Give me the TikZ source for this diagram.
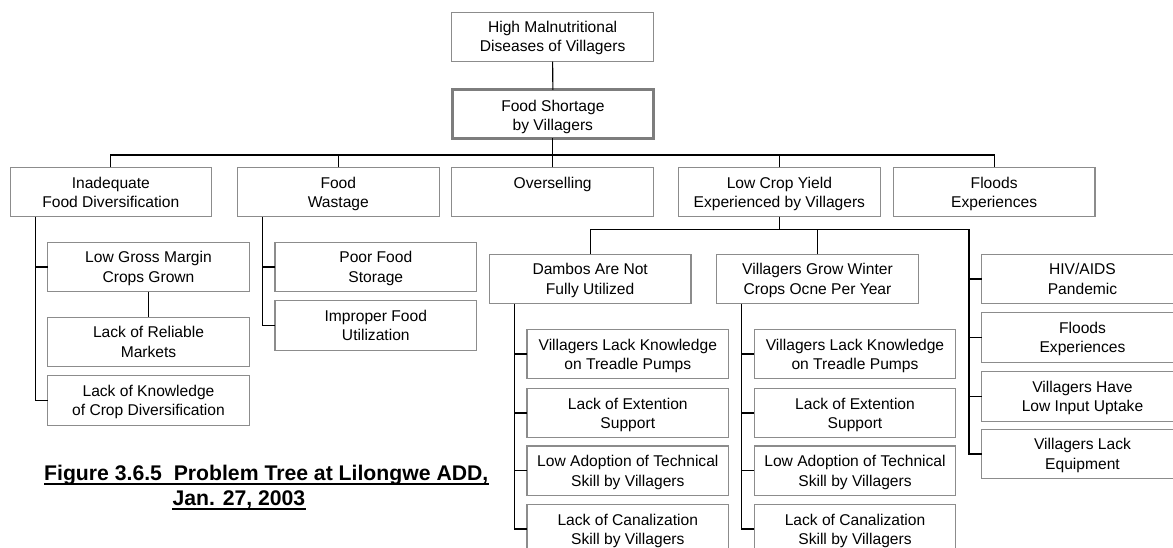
\documentclass[tikz,border=0pt]{standalone}
\usepackage{fontspec}
\setmainfont{Liberation Sans}
\usetikzlibrary{calc}
\definecolor{boxgray}{RGB}{140,140,140}
\definecolor{coregray}{RGB}{125,125,125}

% one problem box: name, centre x, top y, offset of the text block, text
\newcommand\causenode[5]{%
  \node[causebox, anchor=north] (#1) at (#2,#3) {};
  \node[boxtext, anchor=north] (#1-t) at ($(#1.north)+(0,#4)$) {\rule{0pt}{12pt}#5};%
}

\begin{document}
\begin{tikzpicture}[x=1pt, y=-1pt,
  causebox/.style={draw=boxgray, line width=1.1pt, fill=white, inner sep=0pt, outer sep=0pt,
                   minimum width=201.6pt, minimum height=49.4pt},
  corebox/.style={draw=coregray, line width=3pt, fill=white, inner sep=0pt, outer sep=0pt,
                  minimum width=201.3pt, minimum height=48.7pt},
  boxtext/.style={inner sep=0pt, align=center, font=\fontsize{15.6}{19.5}\selectfont},
  captext/.style={inner sep=0pt, font=\fontsize{21.2}{25}\selectfont\bfseries},
  link/.style={draw=black, line width=1.1pt}]

\useasboundingbox (0,0) rectangle (1173,548);
\clip (0,0) rectangle (1173,548);

% effect and core problem
\causenode{effect}{552.65}{12.3}{8}{High Malnutritional\\Diseases of Villagers}
\node[corebox] (core) at (552.85,114.15) {};
\node[boxtext, anchor=north] (core-t) at ($(core.north)+(0,9.2)$) {\rule{0pt}{12pt}Food Shortage\\by Villagers};

% direct causes
\causenode{inad}{110.85}{167.3}{9}{Inadequate\\Food Diversification}
\causenode{waste}{338.3}{167.3}{9}{Food\\Wastage}
\causenode{oversell}{552.65}{167.3}{9}{Overselling}
\causenode{yield}{779.35}{167.3}{9}{Low Crop Yield\\Experienced by Villagers}
\causenode{floods}{994.15}{167.3}{9}{Floods\\Experiences}

% causes of inadequate diversification
\causenode{margin}{148.5}{242.3}{8.3}{Low Gross Margin\\Crops Grown}
\causenode{markets}{148.5}{317.3}{8.3}{Lack of Reliable\\Markets}
\causenode{diversi}{148.5}{375.7}{8.3}{Lack of Knowledge\\of Crop Diversification}

% causes of wastage
\causenode{storage}{375.8}{242.3}{8.3}{Poor Food\\Storage}
\causenode{utiliz}{375.8}{300.7}{8.3}{Improper Food\\Utilization}

% causes of low yield
\causenode{dambos}{590.15}{254.3}{8.3}{Dambos Are Not\\Fully Utilized}
\causenode{winter}{817.5}{254.3}{8.3}{Villagers Grow Winter\\Crops Ocne Per Year}
\causenode{hiv}{1082.5}{254.3}{8.3}{HIV/AIDS\\Pandemic}
\causenode{floodsb}{1082.5}{312.7}{8.3}{Floods\\Experiences}
\causenode{input}{1082.5}{371.7}{8.3}{Villagers Have\\Low Input Uptake}
\causenode{equip}{1082.5}{429.3}{8.3}{Villagers Lack\\Equipment}

% causes under the dambos
\causenode{da}{627.8}{329.3}{8.5}{Villagers Lack Knowledge\\on Treadle Pumps}
\causenode{db}{627.8}{388.3}{8.5}{Lack of Extention\\Support}
\causenode{dc}{627.8}{446}{8.5}{Low Adoption of Technical\\Skill by Villagers}
\causenode{dd}{627.8}{504.3}{8.5}{Lack of Canalization\\Skill by Villagers}

% causes under winter cropping
\causenode{wa}{855}{329.3}{8.5}{Villagers Lack Knowledge\\on Treadle Pumps}
\causenode{wb}{855}{388.3}{8.5}{Lack of Extention\\Support}
\causenode{wc}{855}{446}{8.5}{Low Adoption of Technical\\Skill by Villagers}
\causenode{wd}{855}{504.3}{8.5}{Lack of Canalization\\Skill by Villagers}

% trunk and bus coordinates
\coordinate (bus) at (0,155);
\coordinate (ybus) at (0,229.3);
\coordinate (tinad) at ($(inad.south west)+(25,0)$);
\coordinate (twaste) at ($(waste.south west)+(25,0)$);
\coordinate (tdambos) at ($(dambos.south west)+(25,0)$);
\coordinate (twinter) at ($(winter.south west)+(25,0)$);
\coordinate (tright) at ($(hiv.west)+(-12.7,0)$);

% connectors
\draw[link] (effect.south) -- (core.north);
\draw[link] (core.south) -- (core.south |- bus);
\draw[link] (inad.north) -- (inad.north |- bus) -- (floods.north |- bus) -- (floods.north);
\draw[link] (waste.north) -- (waste.north |- bus);
\draw[link] (oversell.north) -- (oversell.north |- bus);
\draw[link] (yield.north) -- (yield.north |- bus);

\draw[link] (tinad) -- (tinad |- diversi.west) -- (diversi.west);
\draw[link] (tinad |- margin.west) -- (margin.west);
\draw[link] (margin.south) -- (markets.north);

\draw[link] (twaste) -- (twaste |- utiliz.west) -- (utiliz.west);
\draw[link] (twaste |- storage.west) -- (storage.west);

\draw[link] (yield.south) -- (yield.south |- ybus);
\draw[link] (dambos.north) -- (dambos.north |- ybus) -- (tright |- ybus) -- (tright |- equip.west) -- (equip.west);
\draw[link] (winter.north) -- (winter.north |- ybus);
\draw[link] (tright |- hiv.west) -- (hiv.west);
\draw[link] (tright |- floodsb.west) -- (floodsb.west);
\draw[link] (tright |- input.west) -- (input.west);

\draw[link] (tdambos) -- (tdambos |- dd.west) -- (dd.west);
\draw[link] (tdambos |- da.west) -- (da.west);
\draw[link] (tdambos |- db.west) -- (db.west);
\draw[link] (tdambos |- dc.west) -- (dc.west);

\draw[link] (twinter) -- (twinter |- wd.west) -- (wd.west);
\draw[link] (twinter |- wa.west) -- (wa.west);
\draw[link] (twinter |- wb.west) -- (wb.west);
\draw[link] (twinter |- wc.west) -- (wc.west);

% caption
\node[captext, anchor=base west] (cap1) at (44,480) {Figure 3.6.5\ \ Problem Tree at Lilongwe ADD,};
\node[captext, anchor=base west] (cap2) at (172.3,505) {Jan. 27, 2003};
\draw[line width=1.8pt] ($(cap1.base west)+(0,4.3)$) -- ($(cap1.base east)+(0,4.3)$);
\draw[line width=1.8pt] ($(cap2.base west)+(0,4)$) -- ($(cap2.base east)+(0,4)$);
\end{tikzpicture}
\end{document}
